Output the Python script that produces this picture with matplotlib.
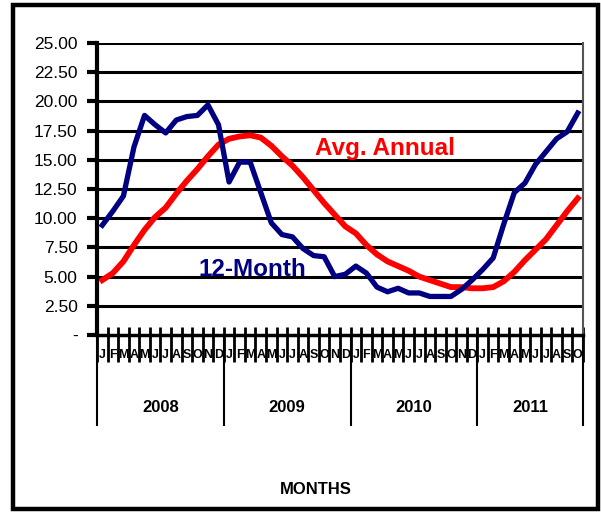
import matplotlib
matplotlib.use("Agg")
import matplotlib.pyplot as plt
import matplotlib.transforms as mtransforms
import numpy as np

plt.rcParams['font.family'] = ['Liberation Sans', 'DejaVu Sans']

years = ['2008', '2009', '2010', '2011']
month_letters = ['J', 'F', 'M', 'A', 'M', 'J', 'J', 'A', 'S', 'O', 'N', 'D']
months = (month_letters * 4)[:46]   # Jan 2008 .. Oct 2011

twelve_month = [9.4, 10.6, 11.9, 16.1, 18.8, 18.0, 17.3, 18.4, 18.7, 18.8, 19.7, 18.0,
                13.1, 14.8, 14.8, 12.2, 9.6, 8.6, 8.4, 7.4, 6.8, 6.7, 5.0, 5.2,
                5.9, 5.3, 4.1, 3.7, 4.0, 3.6, 3.6, 3.3, 3.3, 3.3, 3.9, 4.7,
                5.6, 6.6, 9.5, 12.2, 13.0, 14.6, 15.7, 16.8, 17.4, 19.0]
avg_annual = [4.7, 5.3, 6.3, 7.7, 9.0, 10.1, 10.9, 12.1, 13.2, 14.2, 15.3, 16.3,
              16.8, 17.0, 17.1, 16.9, 16.2, 15.3, 14.5, 13.5, 12.4, 11.3, 10.3, 9.3,
              8.7, 7.7, 6.9, 6.3, 5.9, 5.5, 5.0, 4.7, 4.4, 4.1, 4.1, 4.0,
              4.0, 4.1, 4.6, 5.4, 6.4, 7.3, 8.2, 9.4, 10.6, 11.7]
yticks = [0, 2.5, 5, 7.5, 10, 12.5, 15, 17.5, 20, 22.5, 25]

n = len(months)
x = np.arange(n)

fig = plt.figure(figsize=(6.01, 5.13), dpi=100)
ax = fig.add_axes([97/601, 1-335/513, (583-97)/601, (335-43)/513])

# outer frame
fig.patches.append(plt.Rectangle((0.021, 0.007), 0.974, 0.983, transform=fig.transFigure,
                                 fill=False, edgecolor='black', linewidth=3.2))

for v in yticks[1:]:
    ax.axhline(v, color='black', linewidth=2.2, zorder=1)

ax.plot(x, twelve_month, color='#000080', linewidth=3.8, zorder=3, solid_joinstyle='round')
ax.plot(x, avg_annual, color='#ff0000', linewidth=4.2, zorder=2, solid_joinstyle='round')

ax.set_xlim(-0.5, n - 0.5)
ax.set_ylim(0, 25)
ax.set_yticks(yticks)
ax.set_yticklabels(['-' if v == 0 else '%.2f' % v for v in yticks], fontsize=12.5)
ax.tick_params(axis='y', direction='out', length=7, width=3, pad=7)

ax.spines['top'].set_visible(False)
ax.spines['right'].set_color('#555555')
ax.spines['right'].set_linewidth(1.5)
ax.spines['left'].set_linewidth(3)
ax.spines['bottom'].set_linewidth(2.5)

# category axis: letters between separators
ax.set_xticks(x)
ax.set_xticklabels(months, fontsize=9, fontweight='bold')
ax.tick_params(axis='x', length=0, pad=10)

trans = mtransforms.blended_transform_factory(ax.transData, ax.transAxes)
bounds = np.arange(n + 1) - 0.5
ax.vlines(bounds, -0.092, 0.027, transform=trans, color='black', linewidth=2, clip_on=False)
ybounds = [b for b in bounds if (b + 0.5) % 12 == 0] + [bounds[-1]]
ax.vlines(ybounds, -0.31, 0, transform=trans, color='black', linewidth=1.5, clip_on=False)
for i, yr in enumerate(years):
    lo = ybounds[i]
    hi = ybounds[i + 1]
    ax.text((lo + hi) / 2, -0.25, yr, transform=trans, ha='center', va='center',
            fontsize=12, fontweight='bold')

ax.text(26.8, 16.0, 'Avg. Annual', color='#ff0000', fontsize=17.5, fontweight='bold',
        ha='center', va='center')
ax.text(14.2, 5.6, '12-Month', color='#000080', fontsize=17.5, fontweight='bold',
        ha='center', va='center')

fig.text(316/601, 1-490/513, 'MONTHS', ha='center', va='center', fontsize=12,
         fontweight='bold')

fig.savefig('out.png', dpi=100)
